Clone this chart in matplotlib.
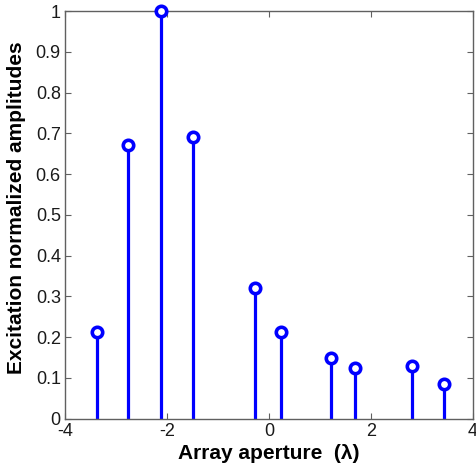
import numpy as np
import matplotlib.pyplot as plt

plt.rcParams['font.family'] = ['Liberation Sans', 'DejaVu Sans']

positions = [-3.373, -2.759, -2.118, -1.496, -0.275, 0.235, 1.222, 1.680, 2.798, 3.437]
amplitudes = [0.213, 0.672, 1.0, 0.690, 0.321, 0.213, 0.148, 0.125, 0.130, 0.085]
xticks = [-4, -2, 0, 2, 4]
yticks = [0, 0.1, 0.2, 0.3, 0.4, 0.5, 0.6, 0.7, 0.8, 0.9, 1]

fig = plt.figure(figsize=(4.76, 4.69), dpi=100)
ax = fig.add_axes([0.1366, 0.1072, 0.8571, 0.8693])

ax.vlines(positions, 0, amplitudes, colors='#0000ff', linewidth=2.3, zorder=2)
ax.plot(positions, amplitudes, 'o', color='#0000ff', markerfacecolor='white',
        markersize=7.5, markeredgewidth=2.6, zorder=3, clip_on=False)

ax.set_xlim(-4, 4)
ax.set_ylim(0, 1)
ax.set_xticks(xticks)
ax.set_xticklabels([str(t) for t in xticks])
ax.set_yticks(yticks)
ax.set_yticklabels(['0'] + ['%.1f' % t for t in yticks[1:-1]] + ['1'])

for s in ax.spines.values():
    s.set_color('#606060')
    s.set_linewidth(1.0)
ax.tick_params(direction='in', top=True, right=True, length=4, width=0.8,
               color='#606060', labelsize=13, labelcolor='#1a1a1a', pad=3)

ax.set_xlabel('Array aperture  (λ)', fontsize=15, fontweight='bold', labelpad=3)
ax.set_ylabel('Excitation normalized amplitudes', fontsize=15, fontweight='bold')
ax.yaxis.set_label_coords(-0.095, 0.517)

fig.savefig('out.png', dpi=100)
